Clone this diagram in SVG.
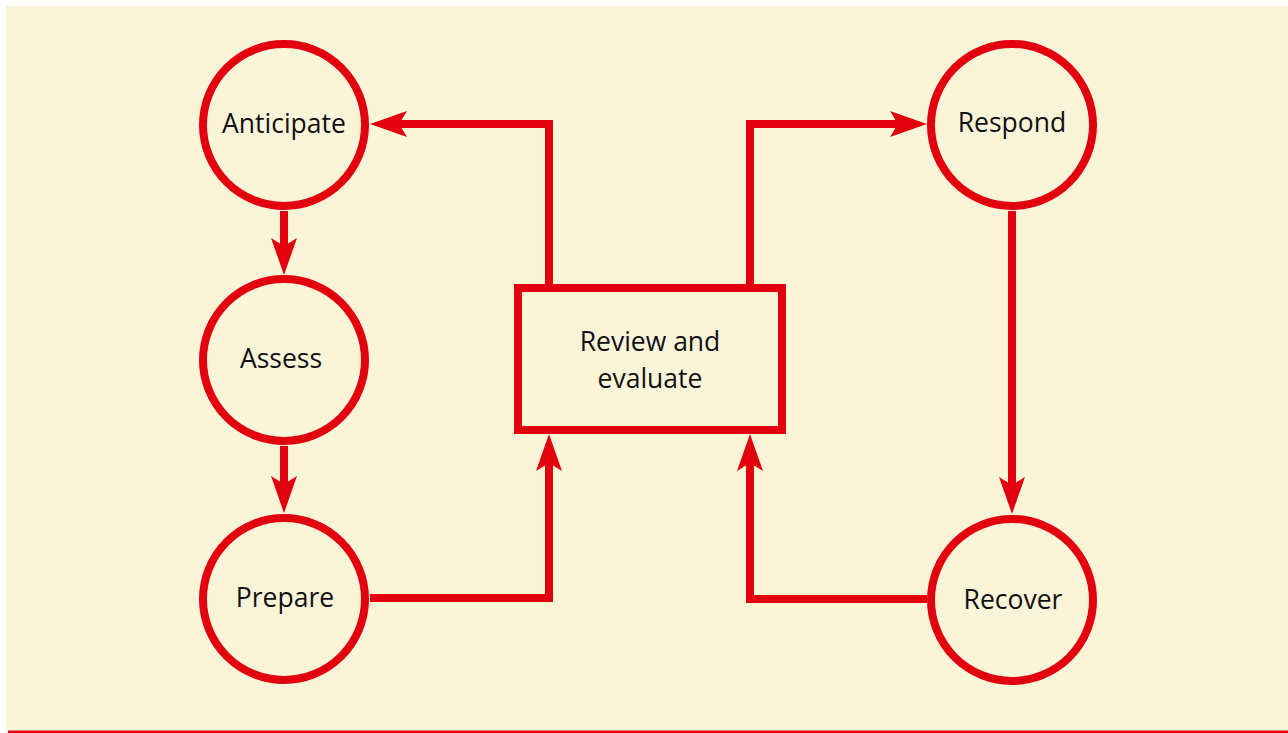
<svg xmlns="http://www.w3.org/2000/svg" width="1288" height="733" viewBox="0 0 1288 733">
<defs>
<style>
.node{fill:none;stroke:#E2000F;stroke-width:8}
.lbl{font-family:"Open Sans","Noto Sans",sans-serif;font-size:26.5px;fill:#111;text-anchor:middle}
.edge{fill:none;stroke:#E2000F;stroke-width:8;stroke-linejoin:miter}
</style>
<marker id="ah" markerUnits="userSpaceOnUse" viewBox="-20 -15 42 30" refX="0" refY="0" markerWidth="42" markerHeight="30" orient="auto" overflow="visible">
<path d="M20,0 L-17,-13 L-9,0 L-17,13 Z" fill="#E2000F"/>
</marker>
</defs>
<rect x="0" y="0" width="1288" height="733" fill="#ffffff"/>
<rect x="6" y="6" width="1282" height="725" fill="#FAF4D9"/>
<rect x="8" y="730.5" width="1280" height="2.5" fill="#E2000F"/>
<g id="connectors">
<path class="edge" d="M284,211 V255" marker-end="url(#ah)"/>
<path class="edge" d="M284,446 V493" marker-end="url(#ah)"/>
<path class="edge" d="M1012,211 V494" marker-end="url(#ah)"/>
<path class="edge" d="M549,284 V124 H390" marker-end="url(#ah)"/>
<path class="edge" d="M750,284 V124 H907" marker-end="url(#ah)"/>
<path class="edge" d="M370,598 H549 V454" marker-end="url(#ah)"/>
<path class="edge" d="M927,599 H750 V454" marker-end="url(#ah)"/>
</g>
<g id="anticipate">
<circle class="node" cx="284" cy="125" r="81"/>
<text class="lbl" x="284" y="133">Anticipate</text>
</g>
<g id="assess">
<circle class="node" cx="284" cy="360" r="81"/>
<text class="lbl" x="281" y="368">Assess</text>
</g>
<g id="prepare">
<circle class="node" cx="284" cy="599" r="81"/>
<text class="lbl" x="285" y="607">Prepare</text>
</g>
<g id="review">
<rect class="node" x="518" y="288" width="264" height="142"/>
<text class="lbl" x="650" y="351">Review and</text>
<text class="lbl" x="650" y="388">evaluate</text>
</g>
<g id="respond">
<circle class="node" cx="1012" cy="125" r="81"/>
<text class="lbl" x="1012" y="132">Respond</text>
</g>
<g id="recover">
<circle class="node" cx="1012" cy="600" r="81"/>
<text class="lbl" x="1013" y="609">Recover</text>
</g>
</svg>
